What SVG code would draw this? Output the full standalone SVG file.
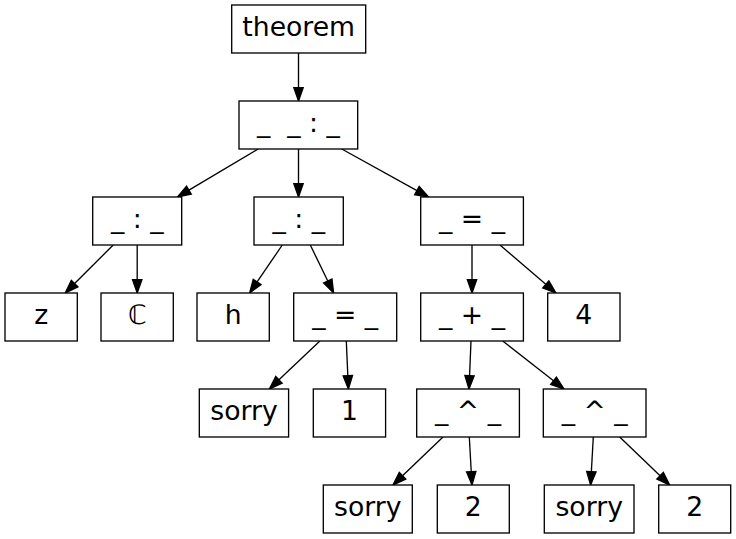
<svg xmlns="http://www.w3.org/2000/svg" width="736" height="539" viewBox="0 0 736 539">
<style>
  .n rect { fill: #ffffff; stroke: #000000; stroke-width: 1.33; }
  .n text { font-family: "DejaVu Sans", "Liberation Sans", sans-serif; font-size: 26.67px; text-anchor: middle; fill: #000000; }
  .e line { stroke: #000000; stroke-width: 1.33; fill: none; marker-end: url(#arr); }
</style>
<defs>
  <marker id="arr" markerUnits="userSpaceOnUse" markerWidth="16" markerHeight="12" refX="0" refY="0" viewBox="-1 -6 16 12" orient="auto" overflow="visible">
    <path d="M0,-4.67 L13.33,0 L0,4.67 z" fill="#000000" stroke="#000000" stroke-width="1.33"/>
  </marker>
</defs>
<rect x="0" y="0" width="736" height="539" fill="#ffffff"/>
<g id="edges" class="e">
  <line x1="298.5" y1="53" x2="298.5" y2="87.67"/>
  <line x1="258.06" y1="149" x2="188.95" y2="190.18"/>
  <line x1="298.5" y1="149" x2="298.5" y2="183.67"/>
  <line x1="341.8" y1="149" x2="416.94" y2="190.55"/>
  <line x1="113.2" y1="245" x2="74.63" y2="283.57"/>
  <line x1="137.2" y1="245" x2="137.2" y2="279.67"/>
  <line x1="282.3" y1="245" x2="257.1" y2="281.98"/>
  <line x1="310.3" y1="245" x2="327.78" y2="281.01"/>
  <line x1="472" y1="245" x2="472" y2="279.67"/>
  <line x1="500" y1="245" x2="545.79" y2="284.32"/>
  <line x1="319.9" y1="341" x2="278.97" y2="379.83"/>
  <line x1="346.3" y1="341" x2="347.82" y2="375.68"/>
  <line x1="471" y1="341" x2="469.55" y2="375.68"/>
  <line x1="502.7" y1="341" x2="553.51" y2="380.78"/>
  <line x1="443" y1="437" x2="402.53" y2="475.78"/>
  <line x1="469.3" y1="437" x2="471.25" y2="471.69"/>
  <line x1="593.3" y1="437" x2="591.35" y2="471.69"/>
  <line x1="619.7" y1="437" x2="660.08" y2="475.77"/>
</g>
<g id="n_theorem" class="n"><rect x="231.7" y="5" width="134" height="48"/><text x="298.7" y="36">theorem</text></g>
<g id="n_binders" class="n"><rect x="239" y="101" width="118.7" height="48"/><text x="298.35" y="132" xml:space="preserve">_&#160; _ : _</text></g>
<g id="n_typed_z" class="n"><rect x="92.7" y="197" width="89" height="48"/><text x="137.2" y="228">_ : _</text></g>
<g id="n_typed_h" class="n"><rect x="254" y="197" width="89.3" height="48"/><text x="298.7" y="228">_ : _</text></g>
<g id="n_eq4" class="n"><rect x="420.7" y="197" width="102.7" height="48"/><text x="472" y="228">_ = _</text></g>
<g id="n_z" class="n"><rect x="5" y="293" width="72.3" height="48"/><text x="41.2" y="324">z</text></g>
<g id="n_C" class="n"><rect x="101" y="293" width="72.3" height="48"/><text x="137.2" y="324">ℂ</text></g>
<g id="n_h" class="n"><rect x="197" y="293" width="72.3" height="48"/><text x="233.2" y="324">h</text></g>
<g id="n_eq1" class="n"><rect x="293.7" y="293" width="103" height="48"/><text x="345.2" y="324">_ = _</text></g>
<g id="n_plus" class="n"><rect x="420.7" y="293" width="102.7" height="48"/><text x="472" y="324">_ + _</text></g>
<g id="n_4" class="n"><rect x="547.7" y="293" width="72.3" height="48"/><text x="583.8" y="324">4</text></g>
<g id="n_sorry1" class="n"><rect x="199.3" y="389" width="89.3" height="48"/><text x="244" y="420">sorry</text></g>
<g id="n_1" class="n"><rect x="313.3" y="389" width="72.3" height="48"/><text x="349.5" y="420">1</text></g>
<g id="n_pow1" class="n"><rect x="416.7" y="389" width="102.7" height="48"/><text x="468" y="420">_ ^ _</text></g>
<g id="n_pow2" class="n"><rect x="543.3" y="389" width="102.7" height="48"/><text x="594.7" y="420">_ ^ _</text></g>
<g id="n_sorry2" class="n"><rect x="323.3" y="485" width="89" height="48"/><text x="367.8" y="516">sorry</text></g>
<g id="n_2a" class="n"><rect x="437.3" y="485" width="72" height="48"/><text x="473.3" y="516">2</text></g>
<g id="n_sorry3" class="n"><rect x="544.3" y="485" width="89.7" height="48"/><text x="589.2" y="516">sorry</text></g>
<g id="n_2b" class="n"><rect x="658.7" y="485" width="72" height="48"/><text x="694.7" y="516">2</text></g>
</svg>
